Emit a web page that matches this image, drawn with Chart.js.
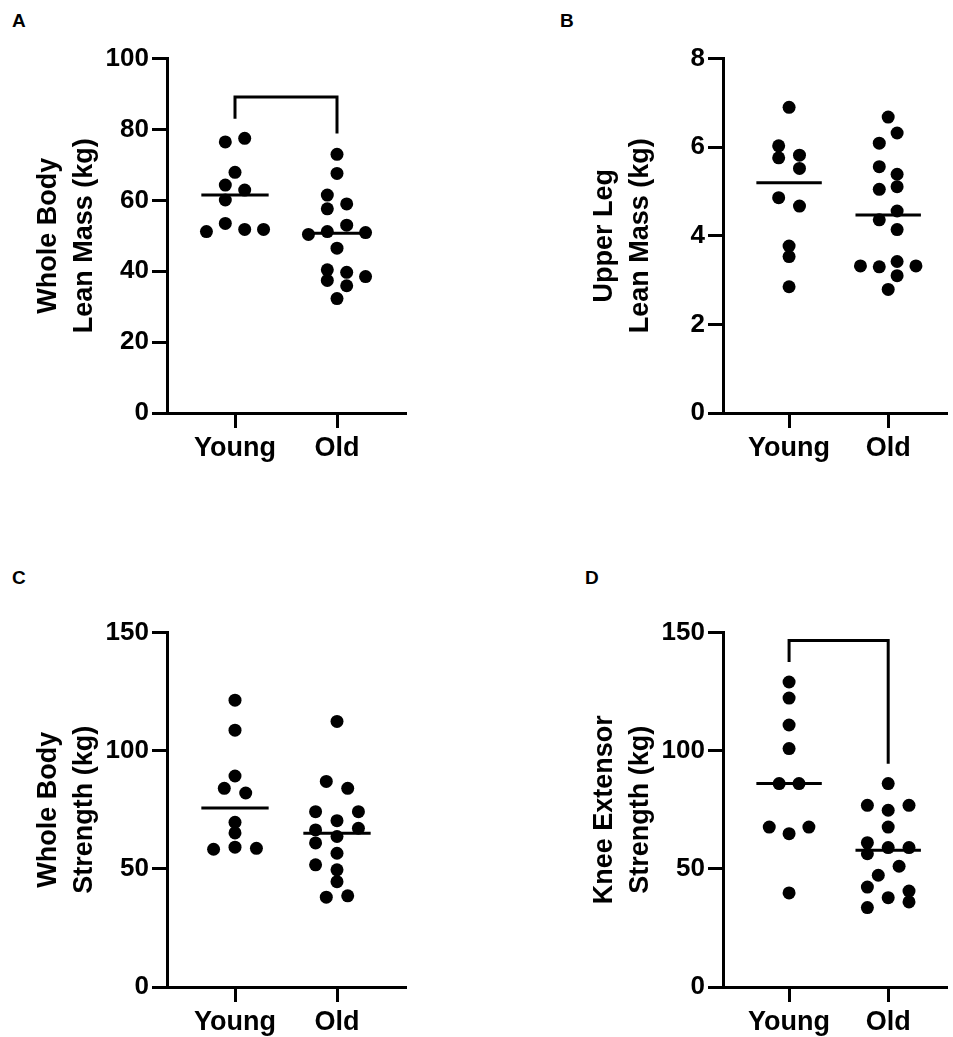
<!DOCTYPE html>
<html><head><meta charset="utf-8">
<script src="https://cdn.jsdelivr.net/npm/chart.js@4"></script>
<style>
body{margin:0;background:#fff;width:953px;height:1037px;position:relative;overflow:hidden;font-family:"Liberation Sans",Arial,sans-serif}
.c{position:absolute}
.l{position:absolute;font-weight:bold;font-size:19px}
</style></head><body>
<div class="l" style="left:12px;top:10px">A</div>
<div class="l" style="left:560px;top:10px">B</div>
<div class="l" style="left:12px;top:567px">C</div>
<div class="l" style="left:585px;top:567px">D</div>
<canvas id="cA" class="c"></canvas><canvas id="cB" class="c"></canvas>
<canvas id="cC" class="c"></canvas><canvas id="cD" class="c"></canvas>
<script>
const categories=["Young","Old"];
// Panel A
const aYoung=[76.5,77.5,67.9,64.3,62.9,60.1,53.5,51.2,51.8,51.8];
const aYoungJit=[-0.095,0.095,0,-0.095,0.095,-0.095,-0.095,-0.28,0.095,0.28];
const aOld=[73,67.6,61.5,59,57.6,53,50.4,51.2,50.9,46.5,40.4,39.7,38.5,37.4,35.9,32.3];
const aOldJit=[0,0,-0.095,0.095,-0.095,0.095,-0.28,-0.095,0.28,0,-0.095,0.095,0.28,-0.095,0.095,0];
const aLines=[61.5,50.7];
const aBracket=[83,89.2,89.2,78.9];
// Panel B
const bYoung=[6.90,6.03,5.76,5.82,5.52,4.86,4.67,3.77,3.53,2.85];
const bYoungJit=[0,-0.105,-0.105,0.105,0.105,-0.105,0.105,0,0,0];
const bOld=[6.68,6.32,6.09,5.56,5.39,5.05,5.11,4.56,4.36,4.14,3.32,3.30,3.42,3.32,3.10,2.79];
const bOldJit=[0,0.09,-0.09,-0.09,0.09,-0.09,0.09,0.09,-0.09,0.09,-0.28,-0.09,0.09,0.28,0.09,0];
const bLines=[5.2,4.47];
// Panel C
const cYoung=[121.4,108.7,89.3,84.1,82.1,69.7,65.2,58.3,59.2,58.7];
const cYoungJit=[0,0,0,-0.105,0.105,0,0,-0.21,0,0.21];
const cOld=[112.4,87,84.1,74.2,74.2,70.4,66.5,67.2,63.7,61,56.6,51.7,49.6,44.6,38,38.6];
const cOldJit=[0,-0.105,0.105,-0.21,0.21,0,-0.21,0.21,0,-0.21,0,-0.21,0,0,-0.105,0.105];
const cLines=[75.8,65.1];
// Panel D
const dYoung=[129.1,122.3,110.9,100.9,86.1,86.1,67.7,67.7,64.9,39.8];
const dYoungJit=[0,0,0,0,-0.1,0.1,-0.2,0.2,0,0];
const dOld=[86.1,76.9,74.8,76.9,67.7,61.1,59,59,56.4,51.1,47.3,42.3,40.6,37.8,36,33.6];
const dOldJit=[0,-0.21,0,0.21,0,-0.21,0,0.21,-0.21,0.11,-0.1,-0.21,0.21,0,0.21,-0.21];
const dLines=[86.1,57.9];
const dBracket=[137.6,146.7,146.7,94.5];

const FONT='"Liberation Sans",Arial,sans-serif';
function make(id,left,top,w,h,yMax,yStep,title,Y,YJ,O,OJ,lines,bracket,lineHalf,xMax,padR){
  const cv=document.getElementById(id);
  cv.style.left=left+'px';cv.style.top=top+'px';cv.width=w;cv.height=h;cv.style.width=w+'px';cv.style.height=h+'px';
  const pts=(v,j,c)=>v.map((y,i)=>({x:c+j[i],y}));
  const ds=[
    {type:'scatter',data:pts(Y,YJ,1),backgroundColor:'#000',pointRadius:6.5,pointBorderWidth:0},
    {type:'scatter',data:pts(O,OJ,2),backgroundColor:'#000',pointRadius:6.5,pointBorderWidth:0},
  ];
  lines.forEach((m,i)=>ds.push({type:'line',data:[{x:i+1-lineHalf,y:m},{x:i+1+lineHalf,y:m}],borderColor:'#000',borderWidth:3,pointRadius:0}));
  if(bracket) ds.push({type:'line',data:[{x:1,y:bracket[0]},{x:1,y:bracket[1]},{x:2,y:bracket[2]},{x:2,y:bracket[3]}],borderColor:'#000',borderWidth:3,pointRadius:0,borderJoinStyle:'miter'});
  new Chart(cv,{data:{datasets:ds},options:{
    responsive:false,animation:false,events:[],
    layout:{padding:{top:18,right:padR,left:31,bottom:0}},
    plugins:{legend:{display:false},tooltip:{enabled:false}},
    scales:{
      x:{type:'linear',min:1/3,max:xMax,
        afterBuildTicks:s=>{s.ticks=[{value:1},{value:2}];},
        afterFit:s=>{s.height=62;},
        ticks:{callback:v=>categories[v-1],color:'#000',font:{family:FONT,size:27,weight:'bold'},padding:4},
        grid:{drawOnChartArea:false,color:'#000',lineWidth:3,tickLength:15},
        border:{color:'#000',width:3}},
      y:{min:0,max:yMax,ticks:{stepSize:yStep,color:'#000',font:{family:FONT,size:26,weight:'bold'},padding:3},
        afterFit:s=>{s.width=136;},
        grid:{drawOnChartArea:false,color:'#000',lineWidth:3,tickLength:15},
        border:{color:'#000',width:3},
        title:{display:true,text:title,color:'#000',font:{family:FONT,size:27,weight:'bold',lineHeight:1.33},padding:{top:0,bottom:0}}}
    }}});
}
make('cA',0,40,420,435,100,20,['Whole Body','Lean Mass (kg)'],aYoung,aYoungJit,aOld,aOldJit,aLines,aBracket,0.33,8/3,15);
make('cB',556,40,397,435,8,2,['Upper Leg','Lean Mass (kg)'],bYoung,bYoungJit,bOld,bOldJit,bLines,null,0.33,1/3+230/102,0);
make('cC',0,614,420,435,150,50,['Whole Body','Strength (kg)'],cYoung,cYoungJit,cOld,cOldJit,cLines,null,0.33,8/3,15);
make('cD',556,614,397,435,150,50,['Knee Extensor','Strength (kg)'],dYoung,dYoungJit,dOld,dOldJit,dLines,dBracket,0.33,1/3+230/102,0);
</script></body></html>
